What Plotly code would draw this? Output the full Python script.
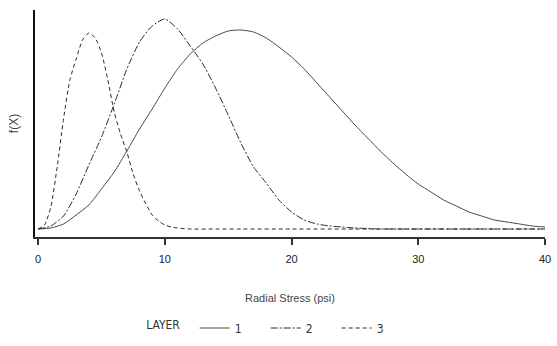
import plotly.graph_objects as go

# Layer 1 (wide curve, solid)
layer1_x = list(range(0, 41))
layer1_f = [0, 1, 5, 14, 24, 40, 57, 78, 100, 120, 141, 160, 175, 186, 193, 198, 199, 197, 191, 182, 172,
            160, 146, 132, 118, 104, 91, 78, 66, 55, 45, 37, 29, 23, 17, 13, 9, 7, 5, 3, 2]

# Layer 2 (middle curve)
layer2_x = list(range(0, 41))
layer2_f = [0, 3, 13, 35, 64, 92, 125, 160, 187, 203, 210, 200, 183, 165, 141, 114, 86, 62, 46, 29, 17,
            9, 5, 3, 2, 1, 0.5, 0, 0, 0, 0, 0, 0, 0, 0, 0, 0, 0, 0, 0, 0]

# Layer 3 (narrow curve)
layer3_x = [0, 0.5, 1, 1.5, 2, 2.5, 3, 3.5, 4, 4.5, 5, 5.5, 6, 6.5, 7, 7.5, 8, 8.5, 9, 9.5, 10, 10.5, 11,
            12, 14, 16, 20, 25, 30, 35, 40]
layer3_f = [0, 4, 22, 62, 110, 149, 170, 189, 196, 191, 176, 149, 117, 95, 77, 55, 38, 25, 14, 8, 4, 2, 1,
            0, 0, 0, 0, 0, 0, 0, 0]

x_ticks = [0, 10, 20, 30, 40]
legend_names = ["1", "2", "3"]

fig = go.Figure()
fig.add_trace(go.Scatter(x=layer1_x, y=layer1_f, mode="lines", name=legend_names[0],
                         line=dict(color="#4a4a4a", width=1, shape="spline", smoothing=0.6)))
fig.add_trace(go.Scatter(x=layer2_x, y=layer2_f, mode="lines", name=legend_names[1],
                         line=dict(color="#2a2a2a", width=1, shape="spline", smoothing=0.6,
                                   dash="7px,2px,2px,2px")))
fig.add_trace(go.Scatter(x=layer3_x, y=layer3_f, mode="lines", name=legend_names[2],
                         line=dict(color="#2a2a2a", width=1, shape="spline", smoothing=0.6,
                                   dash="4px,3px")))

fig.update_layout(
    template="none",
    width=557, height=346,
    margin=dict(l=35, r=12, t=10, b=109, pad=0, autoexpand=False),
    paper_bgcolor="white", plot_bgcolor="white",
    font=dict(family="Liberation Sans, Arial", size=11, color="#333"),
    showlegend=True,
    legend=dict(orientation="h", x=0.214, xanchor="left", yref="container", y=0.052, yanchor="middle",
                title=dict(text="LAYER  ", font=dict(family="DejaVu Sans Condensed, DejaVu Sans", size=12, color="#333")),
                font=dict(family="DejaVu Sans Condensed, DejaVu Sans", size=12, color="#333"),
                itemwidth=30, entrywidth=26, entrywidthmode="pixels", bgcolor="rgba(0,0,0,0)"),
)
fig.update_xaxes(range=[-0.25, 40], tickvals=x_ticks, ticktext=[str(v) for v in x_ticks],
                 showline=True, linecolor="#333", linewidth=1.5, mirror=False,
                 ticks="outside", ticklen=6, tickwidth=1.5, tickcolor="#333",
                 tickfont=dict(color="#222", size=11),
                 showgrid=False, zeroline=False, automargin=False,
                 ticklabelstandoff=5,
                 title=dict(text="Radial Stress (psi)", standoff=30, font=dict(size=11, color="#444")))
fig.update_yaxes(range=[-8, 219], showline=True, linecolor="#111", linewidth=2,
                 showticklabels=False, ticks="", showgrid=False, zeroline=False, automargin=False,
                 title=dict(text="f(X)", standoff=12, font=dict(size=12, color="#444")))

fig.write_html("out.html")
